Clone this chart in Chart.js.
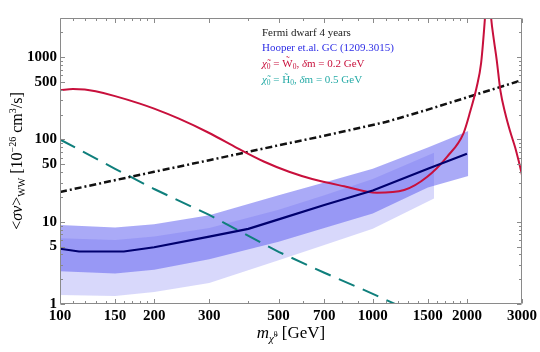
<!DOCTYPE html>
<html>
<head>
<meta charset="utf-8">
<script src="https://cdn.jsdelivr.net/npm/chart.js@4.4.1/dist/chart.umd.min.js"></script>
<style>
  html, body { margin:0; padding:0; background:#fff; }
  #wrap { width:540px; height:352px; }
</style>
</head>
<body>
<div id="wrap"><canvas id="chart" width="540" height="352"></canvas></div>
<script>
// masse in GeV, <sigma v> in 1e-26 cm^3/s

const fermiMass = [100, 200, 300, 500, 700, 1100, 1500, 2000, 3000];
const fermiSv   = [23, 40.5, 56, 85, 111, 163, 231, 325, 527];

const gcMass = [100, 115, 160, 200, 300, 400, 500, 700, 1000, 1500, 2000];
const gcSv   = [4.7, 4.35, 4.35, 4.9, 6.6, 8.2, 10.7, 16, 24, 44, 67];

const gcBandAMass = [100, 150, 200, 300, 500, 700, 1000, 1500, 2020];
const gcBandAHigh = [9.1, 8.5, 9.3, 12, 21, 30, 44, 80, 127];
const gcBandALow  = [2.5, 2.35, 2.6, 3.5, 5.7, 8.4, 12.6, 26, 36];

const gcBandBMass = [100, 150, 200, 300, 500, 700, 1000, 1570];
const gcBandBHigh = [6.3, 6.0, 6.6, 8.4, 14, 21, 33, 69];
const gcBandBLow  = [1.29, 1.25, 1.4, 1.8, 3.4, 5.2, 8.2, 19.2];

const winoMass = [100, 110, 120, 130, 150, 180, 200, 240, 300, 370, 450, 540, 640, 810, 1030, 1260,
                  1490, 1730, 1950, 2050, 2150, 2220, 2270, 2300, 2330, 2360, 2390, 2440, 2490, 2560,
                  2650, 2750, 2850, 2920, 3000];
const winoSv   = [398, 410, 405, 385, 337, 273, 237, 179, 120, 78, 53.6, 40.5, 33.1, 27, 22.5, 24.3,
                  35, 62, 119, 220, 437, 850, 2200, 4500, 12000, 6000, 3000, 1600, 930, 390,
                  210, 125, 81, 57, 37];

const higgsinoMass = [100, 150, 200, 300, 500, 700, 1000, 1200];
const higgsinoSv   = [100, 44, 25, 12.1, 4.3, 2.4, 1.33, 0.97];

const xTicks = [100, 150, 200, 300, 500, 700, 1000, 1500, 2000, 3000];
const xMinor = [110, 120, 130, 140, 160, 170, 180, 190, 400, 600, 800, 900,
                1100, 1200, 1300, 1400, 1600, 1700, 1800, 1900];
const yTicks = [1, 5, 10, 50, 100, 500, 1000];
const yMinor = [2, 3, 4, 6, 7, 8, 9, 20, 30, 40, 60, 70, 80, 90, 200, 300, 400, 600, 700, 800, 900, 2000];

const legendLabels = ['Fermi dwarf 4 years', 'Hooper et.al. GC (1209.3015)', '0.2', '0.5'];

const SERIF = '"Liberation Serif", "DejaVu Serif", serif';
const RED = '#c8103c';
const TEAL = '#0f7f7c';

function pts(xs, ys){
  return xs.map((x, i) => ({ x, y: ys[i] }));
}

function drawRuns(ctx, runs, x, y, align){
  let total = 0;
  runs.forEach(r => { ctx.font = r.font; r.w = ctx.measureText(r.t).width; total += r.w; });
  let cx = align === 'center' ? x - total / 2 : x;
  runs.forEach(r => {
    ctx.font = r.font;
    ctx.fillStyle = r.color;
    ctx.fillText(r.t, cx, y + (r.dy || 0));
    cx += r.w;
  });
}

function neutralinoRuns(sym, dm, color){
  const f = `11px ${SERIF}`, fi = `italic 11px ${SERIF}`, fs = `7.5px ${SERIF}`;
  return [
    { t: 'χ\u0303', font: fi, color },
    { t: '0', font: fs, dy: 2, color },
    { t: ' = ' + sym + '\u0303', font: f, color },
    { t: '0', font: fs, dy: 2, color },
    { t: ', ', font: f, color },
    { t: 'δ', font: fi, color },
    { t: 'm = ' + dm + ' GeV', font: f, color },
  ];
}

// cornice con tacche verso l'interno su tutti e quattro i lati
const framePlugin = {
  id: 'frame',
  afterDatasetsDraw(chart){
    const { ctx, chartArea: a, scales: { x, y } } = chart;
    ctx.save();
    ctx.strokeStyle = '#8a8a8a';
    ctx.lineWidth = 1;
    const L = Math.round(a.left) + 0.5, R = Math.round(a.right) - 0.5;
    const T = Math.round(a.top) + 0.5, B = Math.round(a.bottom) - 0.5;
    ctx.beginPath();
    ctx.rect(L, T, R - L, B - T);
    const tickX = (v, len) => {
      const px = Math.round(x.getPixelForValue(v)) + 0.5;
      ctx.moveTo(px, B); ctx.lineTo(px, B - len);
      ctx.moveTo(px, T); ctx.lineTo(px, T + len);
    };
    const tickY = (v, len) => {
      const py = Math.round(y.getPixelForValue(v)) + 0.5;
      ctx.moveTo(L, py); ctx.lineTo(L + len, py);
      ctx.moveTo(R, py); ctx.lineTo(R - len, py);
    };
    xTicks.forEach(v => tickX(v, 4.5));
    xMinor.forEach(v => tickX(v, 2.5));
    yTicks.forEach(v => tickY(v, 4.5));
    yMinor.forEach(v => tickY(v, 2.5));
    ctx.stroke();
    ctx.restore();
  },
  afterDraw(chart){
    const { ctx, chartArea: a } = chart;
    ctx.save();
    ctx.textBaseline = 'alphabetic';

    // legenda in alto
    const lx = 262;
    drawRuns(ctx, [{ t: legendLabels[0], font: `11px ${SERIF}`, color: '#1a1a1a' }], lx, 35.5);
    drawRuns(ctx, [{ t: legendLabels[1], font: `11px ${SERIF}`, color: '#2f2fe6' }], lx, 51);
    drawRuns(ctx, neutralinoRuns('W', legendLabels[2], RED), lx, 66.5);
    drawRuns(ctx, neutralinoRuns('H', legendLabels[3], '#25aaa6'), lx, 83);

    // titolo asse x
    const cx = (a.left + a.right) / 2;
    drawRuns(ctx, [
      { t: 'm', font: `italic 17px ${SERIF}`, color: '#000' },
      { t: 'χ\u0303', font: `italic 11px ${SERIF}`, dy: 4, color: '#000' },
      { t: '0', font: `7.5px ${SERIF}`, dy: -1, color: '#000' },
      { t: ' [GeV]', font: `17px ${SERIF}`, color: '#000' },
    ], cx, 338, 'center');

    // titolo asse y
    ctx.translate(22, (a.top + a.bottom) / 2);
    ctx.rotate(-Math.PI / 2);
    drawRuns(ctx, [
      { t: '<', font: `16px ${SERIF}`, color: '#000' },
      { t: 'σv', font: `italic 16px ${SERIF}`, color: '#000' },
      { t: '>', font: `16px ${SERIF}`, color: '#000' },
      { t: 'WW', font: `10px ${SERIF}`, dy: 3, color: '#000' },
      { t: ' [10', font: `16px ${SERIF}`, color: '#000' },
      { t: '−26', font: `10px ${SERIF}`, dy: -6, color: '#000' },
      { t: ' cm', font: `16px ${SERIF}`, color: '#000' },
      { t: '3', font: `10px ${SERIF}`, dy: -6, color: '#000' },
      { t: '/s]', font: `16px ${SERIF}`, color: '#000' },
    ], 0, 0, 'center');
    ctx.restore();
  }
};

const tickFont = { family: SERIF, size: 15, weight: 'bold' };

const chart = new Chart(document.getElementById('chart'), {
  type: 'line',
  data: {
    datasets: [
      { data: pts(gcMass, gcSv), borderColor: '#00006e', borderWidth: 2.2, fill: false },
      { data: pts(winoMass, winoSv), borderColor: RED, borderWidth: 2, fill: false,
        cubicInterpolationMode: 'monotone' },
      { data: pts(fermiMass, fermiSv), borderColor: '#111', borderWidth: 2.5, borderDash: [7, 3, 2, 3], fill: false },
      { data: pts(higgsinoMass, higgsinoSv), borderColor: TEAL, borderWidth: 2, borderDash: [17, 9], fill: false },
      { data: pts(gcBandAMass, gcBandAHigh), borderWidth: 0, borderColor: 'rgba(0,0,0,0)',
        backgroundColor: 'rgba(100,100,240,0.55)', fill: '+1' },
      { data: pts(gcBandAMass, gcBandALow), borderWidth: 0, borderColor: 'rgba(0,0,0,0)', fill: false },
      { data: pts(gcBandBMass, gcBandBHigh), borderWidth: 0, borderColor: 'rgba(0,0,0,0)',
        backgroundColor: 'rgba(100,100,240,0.25)', fill: '+1' },
      { data: pts(gcBandBMass, gcBandBLow), borderWidth: 0, borderColor: 'rgba(0,0,0,0)', fill: false },
    ]
  },
  options: {
    responsive: false,
    animation: false,
    layout: { padding: { left: 0, right: 15, top: 18, bottom: 0 } },
    elements: { point: { radius: 0 }, line: { tension: 0 } },
    plugins: { legend: { display: false }, tooltip: { enabled: false } },
    scales: {
      x: {
        type: 'logarithmic', min: 100, max: 3000,
        grid: { display: false, drawTicks: false }, border: { display: false },
        afterBuildTicks: s => { s.ticks = xTicks.map(v => ({ value: v })); },
        afterFit: s => { s.height = 48; },
        ticks: { autoSkip: false, maxRotation: 0, padding: 3, color: '#000', font: tickFont,
                 callback: v => String(v) }
      },
      y: {
        type: 'logarithmic', min: 1, max: 3000,
        grid: { display: false, drawTicks: false }, border: { display: false },
        afterBuildTicks: s => { s.ticks = yTicks.map(v => ({ value: v })); },
        afterFit: s => { s.width = 60; },
        ticks: { autoSkip: false, padding: 3, color: '#000', font: tickFont,
                 callback: v => String(v) }
      }
    }
  },
  plugins: [framePlugin]
});
</script>
</body>
</html>
